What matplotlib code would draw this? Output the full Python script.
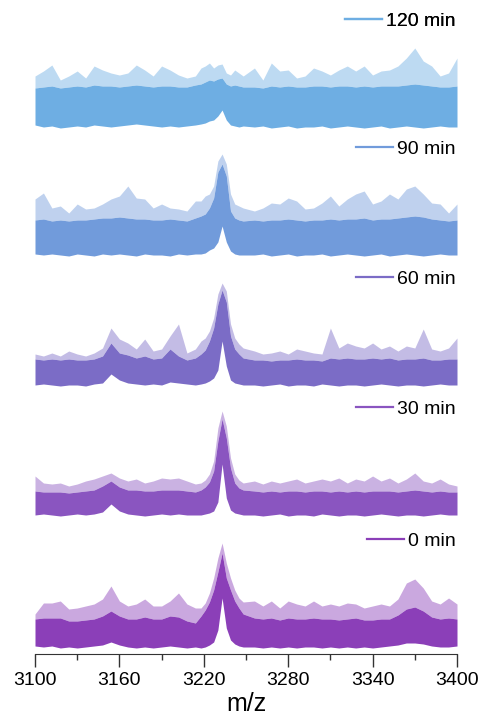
import matplotlib.pyplot as plt

# m/z sampling positions (coarse away from the peak, finer around 3233)
mz = ([3100 + 6 * i for i in range(20)]
      + [3218 + 3 * i for i in range(11)]
      + [3256 + 6 * i for i in range(25)])

labels = ['0 min', '30 min', '60 min', '90 min', '120 min']
colors = ['#8B3FB8', '#8A55C0', '#7B6CC6', '#719BDB', '#6EAEE3']

# spike tips (upper envelope)
tip_0 = [34, 45, 45, 47, 39, 40, 42, 44, 49, 62, 47, 42, 44, 49, 42, 42, 47, 55, 44, 40,
         40, 45, 55, 70, 90, 105, 85, 70, 58, 50, 46,
         47, 42, 47, 40, 47, 44, 42, 47, 42, 44, 42, 45, 44, 40, 42, 44, 42, 49, 65, 69,
         60, 47, 44, 50, 44]
tip_30 = [40, 33, 32, 33, 30, 32, 35, 37, 40, 43, 38, 35, 37, 33, 35, 38, 37, 38, 35, 32,
          33, 36, 42, 55, 88, 105, 90, 58, 42, 36, 33,
          35, 32, 35, 33, 35, 37, 33, 35, 37, 35, 38, 33, 37, 35, 40, 35, 38, 33, 37, 43,
          35, 33, 37, 32, 30]
tip_60 = [32, 30, 33, 30, 35, 32, 30, 33, 38, 58, 47, 43, 37, 47, 35, 37, 50, 62, 33, 37,
          45, 48, 55, 68, 92, 103, 95, 62, 48, 42, 38,
          35, 32, 33, 35, 32, 37, 35, 33, 32, 58, 38, 43, 40, 38, 43, 37, 40, 35, 40, 38,
          57, 37, 35, 38, 48]
tip_90 = [57, 63, 48, 50, 43, 52, 47, 48, 52, 57, 60, 70, 58, 57, 48, 52, 48, 47, 45, 55,
          55, 60, 62, 70, 95, 102, 92, 62, 52, 50, 48,
          45, 48, 53, 52, 58, 55, 47, 48, 53, 60, 50, 57, 62, 65, 52, 55, 62, 57, 67, 70,
          62, 53, 52, 43, 52]
tip_120 = [52, 57, 63, 48, 52, 57, 50, 62, 58, 55, 53, 55, 63, 58, 52, 62, 58, 53, 50, 52,
           60, 62, 65, 60, 63, 64, 55, 53, 58, 55, 52,
           60, 48, 65, 57, 58, 50, 52, 60, 57, 53, 58, 62, 57, 62, 53, 57, 58, 62, 70, 80,
           67, 62, 52, 55, 70]

# top of the dense noise band
body_0 = [29, 30, 30, 30, 27, 27, 28, 29, 32, 37, 32, 29, 29, 31, 29, 29, 32, 31, 27, 25,
          32, 38, 46, 58, 76, 95, 70, 58, 47, 40, 34,
          30, 29, 30, 28, 30, 29, 29, 30, 29, 29, 28, 29, 30, 28, 28, 29, 29, 33, 39, 41,
          37, 31, 29, 30, 29]
body_30 = [25, 24, 24, 24, 23, 24, 25, 26, 30, 35, 29, 26, 26, 25, 25, 26, 26, 26, 25, 24,
           26, 29, 34, 45, 75, 97, 78, 48, 33, 28, 26,
           25, 24, 25, 24, 25, 25, 24, 25, 25, 24, 25, 24, 25, 24, 25, 25, 25, 24, 25, 26,
           25, 24, 25, 24, 24]
body_60 = [27, 26, 27, 26, 27, 26, 26, 27, 30, 43, 33, 31, 28, 30, 27, 28, 37, 30, 26, 28,
           32, 36, 45, 58, 82, 96, 84, 50, 37, 32, 28,
           26, 26, 25, 26, 26, 27, 26, 26, 25, 28, 27, 28, 27, 27, 28, 27, 28, 26, 27, 27,
           28, 26, 26, 27, 27]
body_90 = [36, 37, 35, 36, 35, 36, 36, 37, 38, 38, 39, 38, 37, 37, 36, 36, 37, 36, 35, 38,
           40, 42, 48, 58, 84, 92, 80, 45, 38, 36, 35,
           36, 35, 36, 36, 37, 36, 35, 36, 36, 37, 36, 37, 37, 38, 36, 37, 37, 38, 39, 40,
           39, 37, 36, 35, 36]
body_120 = [40, 41, 42, 40, 41, 42, 41, 43, 42, 42, 41, 42, 43, 42, 41, 42, 42, 41, 41, 43,
            44, 46, 48, 47, 49, 50, 44, 42, 43, 42, 41,
            41, 40, 42, 41, 42, 41, 41, 42, 42, 41, 42, 42, 41, 42, 41, 42, 42, 42, 43, 44,
            43, 42, 41, 41, 42]

# lower edge of the noise band
lo_0 = [2, 1, 2, 0, 1, 0, 1, 2, 3, 6, 3, 1, 0, 1, 0, 1, 2, 1, 0, 1,
        0, 1, 3, 6, 18, 50, 20, 8, 4, 2, 1,
        1, 0, 1, 0, 1, 0, 1, 1, 0, 1, 0, 1, 0, 1, 0, 1, 2, 3, 5, 5,
        4, 2, 1, 1, 2]
lo_30 = [1, 2, 1, 0, 1, 2, 1, 2, 4, 12, 5, 2, 1, 0, 1, 2, 1, 2, 1, 1,
         1, 2, 3, 5, 14, 52, 18, 6, 3, 2, 1,
         1, 0, 1, 2, 0, 1, 1, 0, 2, 1, 0, 1, 1, 0, 1, 2, 1, 0, 1, 1,
         0, 1, 2, 1, 1]
lo_60 = [1, 2, 1, 0, 1, 1, 0, 2, 3, 12, 6, 3, 2, 1, 2, 1, 4, 3, 2, 1,
         2, 3, 5, 8, 16, 45, 20, 6, 3, 2, 1,
         1, 0, 1, 2, 0, 1, 1, 0, 2, 1, 0, 1, 1, 0, 1, 2, 1, 0, 1, 1,
         0, 1, 2, 1, 1]
lo_90 = [2, 1, 2, 1, 0, 2, 1, 0, 2, 1, 2, 1, 0, 2, 1, 1, 0, 2, 1, 2,
         2, 3, 6, 8, 14, 30, 14, 5, 2, 1, 1,
         1, 2, 0, 1, 2, 0, 1, 1, 2, 0, 1, 2, 1, 0, 1, 2, 0, 1, 2, 1,
         0, 1, 2, 1, 1]
lo_120 = [3, 1, 2, 0, 1, 2, 1, 3, 2, 1, 2, 3, 4, 3, 2, 1, 2, 1, 2, 3,
          4, 5, 7, 8, 12, 18, 8, 3, 2, 1, 2,
          1, 2, 0, 1, 2, 0, 1, 1, 2, 0, 1, 2, 1, 0, 1, 2, 0, 1, 2, 1,
          0, 1, 2, 1, 1]

tips = [tip_0, tip_30, tip_60, tip_90, tip_120]
bodies = [body_0, body_30, body_60, body_90, body_120]
lows = [lo_0, lo_30, lo_60, lo_90, lo_120]

# vertical stacking of the traces
offsets = [6, 138, 268, 398, 526]

xticks = [3100, 3160, 3220, 3280, 3340, 3400]


def draw_graph():
    plt.rcParams['font.family'] = ['Liberation Sans', 'DejaVu Sans']
    fig = plt.figure(figsize=(4.82, 7.17), dpi=100)
    ax = fig.add_axes([35 / 482, 63 / 717, 422 / 482, 654 / 717])

    for i in range(len(labels)):
        off = offsets[i]
        c = colors[i]
        lo = [v + off for v in lows[i]]
        body = [v + off for v in bodies[i]]
        tip = [v + off for v in tips[i]]
        # solid noise band, lighter fringe of spikes above it
        ax.fill_between(mz, lo, body, color=c, lw=0)
        ax.fill_between(mz, body, tip, color=c, lw=0, alpha=0.45)
        line, = ax.plot([], [], color=c, lw=1.6)
        leg = ax.legend([line], [labels[i]], loc='center right',
                        bbox_to_anchor=(3399, off + 107),
                        bbox_transform=ax.transData, frameon=False,
                        handlelength=1.9, handletextpad=0.2,
                        borderpad=0, borderaxespad=0,
                        prop={'family': 'Liberation Sans', 'size': 14})
        ax.add_artist(leg)

    ax.set_xlim(3100, 3400)
    ax.set_ylim(0, 654)
    ax.set_xticks(xticks)
    ax.set_xticks([3130, 3190, 3250, 3310, 3370], minor=True)
    ax.set_yticks([])
    for s in ['left', 'right', 'top']:
        ax.spines[s].set_visible(False)
    ax.spines['bottom'].set_color('#333333')
    ax.tick_params(axis='x', which='major', length=9, width=1, color='#333333',
                   labelsize=14, pad=4)
    ax.tick_params(axis='x', which='minor', length=4.5, width=1, color='#333333')
    ax.set_xlabel('m/z', fontsize=18, labelpad=2)

    fig.savefig('out.png', dpi=100)


if __name__ == '__main__':
    draw_graph()
